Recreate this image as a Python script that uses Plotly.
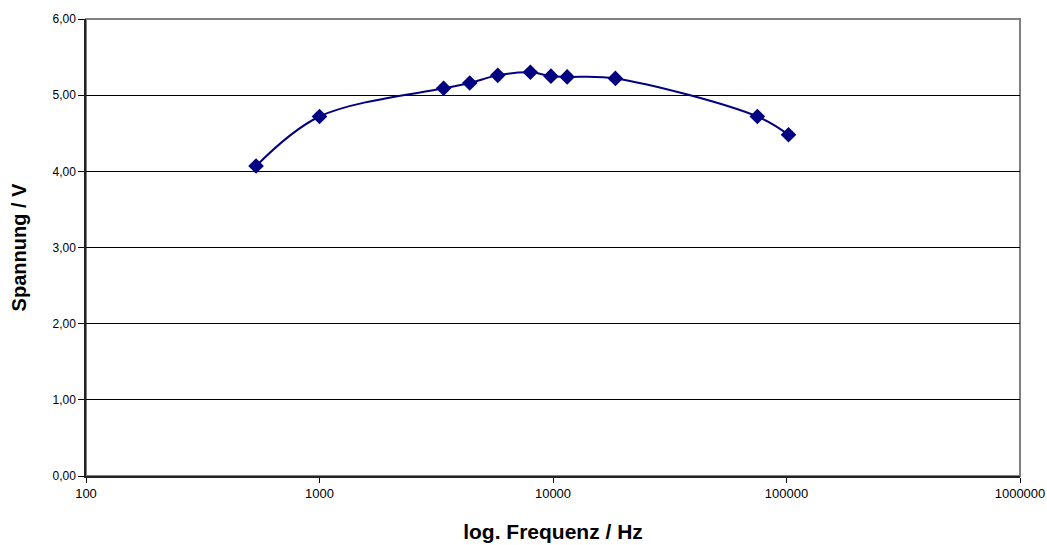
import plotly.graph_objects as go

freq_hz = [535, 1000, 3400, 4400, 5800, 8000, 9800, 11500, 18500, 75000, 102000]
spannung_v = [4.07, 4.72, 5.09, 5.16, 5.26, 5.30, 5.25, 5.24, 5.22, 4.72, 4.48]

x_ticks = [100, 1000, 10000, 100000, 1000000]
y_ticks = [0, 1, 2, 3, 4, 5, 6]

fig = go.Figure()
fig.add_trace(go.Scatter(
    x=freq_hz, y=spannung_v, mode="lines+markers",
    line=dict(color="#000080", width=2, shape="spline", smoothing=1.0),
    marker=dict(symbol="diamond", size=12, color="#000080"),
    showlegend=False,
))

font_family = "Liberation Sans, Arial, sans-serif"
fig.update_layout(
    template="none",
    width=1047, height=545,
    margin=dict(l=86, r=27, t=19, b=69, autoexpand=False),
    paper_bgcolor="white", plot_bgcolor="white",
    separators=",.",
    font=dict(family=font_family, color="black", size=12),
    shapes=[dict(type="rect", xref="paper", yref="paper", x0=0, x1=1, y0=0, y1=1,
                 line=dict(color="#808080", width=2), layer="below")],
)
fig.update_xaxes(
    automargin=False,
    type="log", range=[2, 6],
    tickvals=x_ticks, ticktext=[str(v) for v in x_ticks],
    ticks="outside", ticklen=5, tickcolor="black",
    showline=True, linecolor="#222222", linewidth=1.5,
    showgrid=False, zeroline=False,
    tickfont=dict(size=13),
    title=dict(text="<b>log. Frequenz / Hz</b>", font=dict(size=21), standoff=24),
)
fig.update_yaxes(
    automargin=False,
    range=[0, 6], tickvals=y_ticks, tickformat=".2f",
    ticks="outside", ticklen=6, tickcolor="black",
    showline=True, linecolor="#222222", linewidth=1.5,
    showgrid=True, gridcolor="black", gridwidth=1, zeroline=False,
    tickfont=dict(size=12),
    title=dict(text="<b>Spannung / V</b>", font=dict(size=20), standoff=20),
)

fig.write_html(
    "out.html",
    config={"displayModeBar": False},
    post_script="document.body.style.margin='0';document.body.style.overflow='hidden';",
)
